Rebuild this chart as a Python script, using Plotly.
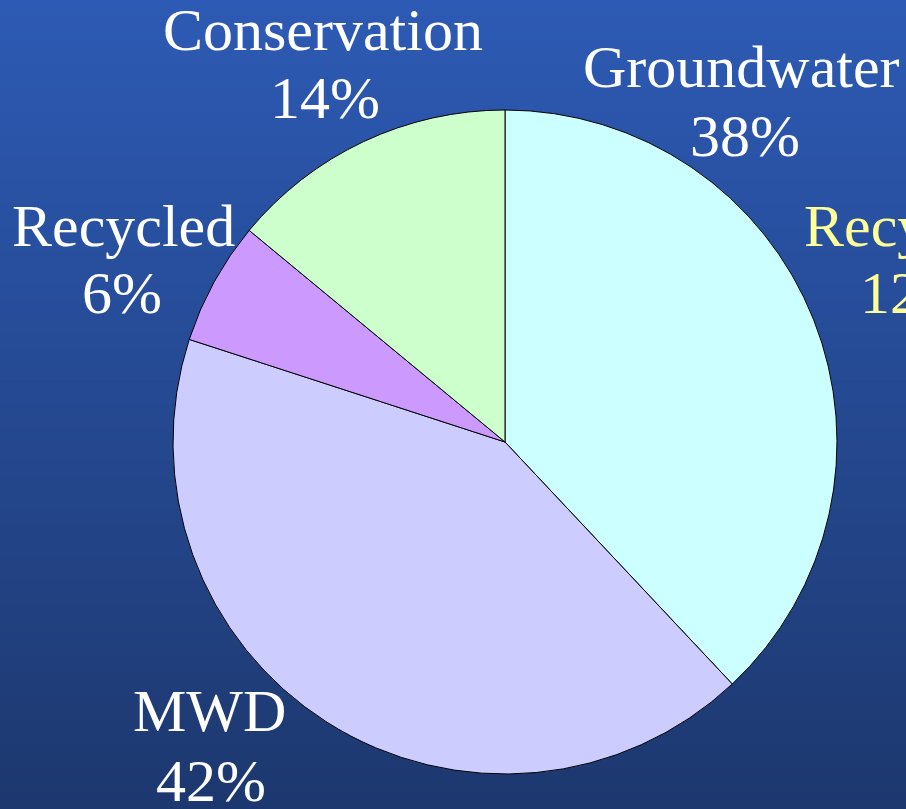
import plotly.graph_objects as go

# Data
categories = ["Groundwater", "MWD", "Recycled", "Conservation"]
values = [38, 42, 6, 14]
colors = ["#CCFFFF", "#CCCCFF", "#CC99FF", "#CCFFCC"]

W, H = 906, 809

fig = go.Figure()
fig.add_trace(go.Pie(
    labels=categories, values=values, sort=False, direction="clockwise",
    rotation=0, textinfo="none", hoverinfo="label+percent",
    marker=dict(colors=colors, line=dict(color="#000000", width=1)),
    domain=dict(x=[173 / W, 837 / W], y=[(H - 774) / H, (H - 110) / H]),
    showlegend=False,
))

# Background vertical gradient
top = (0x2D, 0x5A, 0xB4)
bot = (0x1D, 0x38, 0x6F)
n = 100
shapes = []
for i in range(n):
    t = i / (n - 1)
    c = tuple(round(top[k] + (bot[k] - top[k]) * t) for k in range(3))
    y1 = 1 - i / n
    y0 = 1 - (i + 1) / n - 0.002
    shapes.append(dict(type="rect", xref="paper", yref="paper", x0=0, x1=1,
                       y0=max(y0, 0), y1=y1, layer="below",
                       line=dict(width=0), fillcolor="rgb(%d,%d,%d)" % c))

# Labels (line text, center x px, center y px, color)
label_lines = [
    ("Conservation", 323, 30, "white"),
    ("14%", 325, 98, "white"),
    ("Groundwater", 741, 67, "white"),
    ("38%", 745, 136, "white"),
    ("Recycled", 123, 226, "white"),
    ("6%", 122, 293, "white"),
    ("MWD", 209, 711, "white"),
    ("42%", 211, 781, "white"),
    ("Recycled", 915, 226, "#FFFF99"),
    ("12%", 915, 293, "#FFFF99"),
]
annotations = []
for txt, x, y, col in label_lines:
    annotations.append(dict(
        text=txt, x=x / W, y=1 - y / H, xref="paper", yref="paper",
        xanchor="center", yanchor="middle", showarrow=False,
        font=dict(family="Liberation Serif, Times New Roman, serif", size=60, color=col),
    ))

fig.update_layout(
    width=W, height=H, margin=dict(l=0, r=0, t=0, b=0),
    paper_bgcolor="#24479A", plot_bgcolor="rgba(0,0,0,0)",
    shapes=shapes, annotations=annotations,
)

fig.write_html("out.html", config={"displayModeBar": False},
               post_script="document.body.style.margin='0';document.body.style.overflow='hidden';")
